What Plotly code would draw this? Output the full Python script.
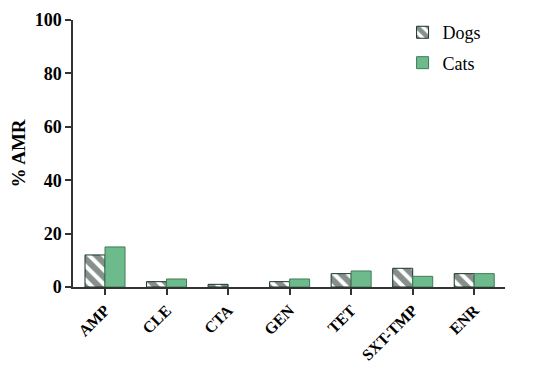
import plotly.graph_objects as go

drugs = ['AMP', 'CLE', 'CTA', 'GEN', 'TET', 'SXT-TMP', 'ENR']
dogs = [12, 2, 1, 2, 5, 7, 5]
cats = [15, 3, 0, 3, 6, 4, 5]

font = 'Liberation Serif, Times New Roman, serif'

fig = go.Figure()
fig.add_bar(x=drugs, y=dogs, name='Dogs', legendgroup='d',
            marker=dict(color='white', line=dict(color='#1a3326', width=1),
                        pattern=dict(shape='\\', fgcolor='#0f2018', bgcolor='white',
                                     size=10, solidity=0.6)))
fig.add_bar(x=drugs, y=cats, name='Cats', legendgroup='c',
            marker=dict(color='#6dbb8c',
                        line=dict(color='#3e7d57', width=[1 if v > 0 else 0 for v in cats])))

# page body adds an 8px offset, so the figure is a bit smaller than the window
fig.update_layout(
    width=542, height=357,
    margin=dict(l=65, r=45, t=12, b=78, autoexpand=False),
    plot_bgcolor='white', paper_bgcolor='white',
    barmode='group', bargap=0.35, bargroupgap=0,
    font=dict(family=font, color='black'),
    showlegend=True,
    legend=dict(xref='container', yref='container', x=0.728, y=0.983,
                xanchor='left', yanchor='top',
                font=dict(family=font, size=18), bgcolor='rgba(0,0,0,0)',
                traceorder='grouped', tracegroupgap=4),
)
fig.update_xaxes(range=[-0.52, 6.5], showline=True, linecolor='#333', linewidth=1.5,
                 ticks='outside', ticklen=6, tickcolor='#333', tickwidth=1.5,
                 tickangle=-45, tickfont=dict(family=font, size=16, color='black', weight='bold'),
                 showgrid=False, automargin=False)
fig.update_yaxes(range=[0, 100], dtick=20, showline=True, linecolor='#333', linewidth=1.5,
                 ticks='outside', ticklen=6, tickcolor='#333', tickwidth=1.5,
                 tickfont=dict(family=font, size=18, color='black', weight='bold'),
                 showgrid=False, zeroline=False, automargin=False,
                 title=dict(text='% AMR', font=dict(family=font, size=19, weight='bold'), standoff=10))

fig.write_html('out.html')
